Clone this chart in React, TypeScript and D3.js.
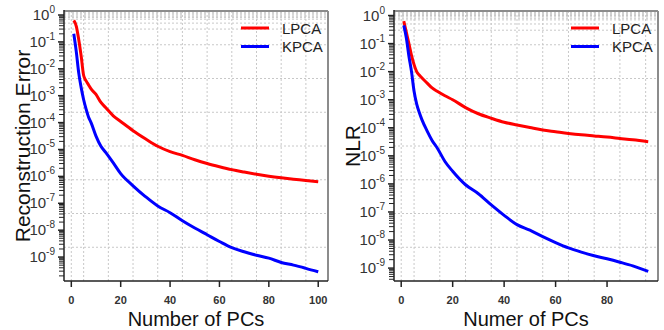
import * as d3 from "d3";

const pcsLeft = [1, 2, 3, 4, 5, 6, 7, 8, 10, 12, 14, 17, 20, 25, 30, 35, 40, 45, 50, 55, 60, 65, 70, 75, 80, 85, 90, 95, 100];
const pcsRight = [1, 2, 3, 4, 5, 6, 7, 8, 10, 12, 14, 17, 20, 25, 30, 35, 40, 45, 50, 55, 60, 65, 70, 75, 80, 85, 90, 96];

// reconstruction error
const lpcaErr = [
  0.631, 0.389, 0.123, 2.95e-2, 5.62e-3, 3.55e-3, 2.51e-3, 1.78e-3, 1.12e-3, 5.62e-4, 3.55e-4, 1.78e-4, 1.1e-4,
  5.01e-5, 2.51e-5, 1.32e-5, 8.32e-6, 6.03e-6, 4.17e-6, 3.02e-6, 2.29e-6, 1.78e-6, 1.45e-6, 1.2e-6, 1.02e-6,
  8.9e-7, 7.9e-7, 7.1e-7, 6.3e-7,
];
const kpcaErr = [
  0.2, 4.47e-2, 7.08e-3, 2.0e-3, 7.08e-4, 3.16e-4, 1.58e-4, 1.0e-4, 3.16e-5, 1.32e-5, 7.59e-6, 3.16e-6, 1.26e-6,
  4.47e-7, 1.78e-7, 7.94e-8, 4.47e-8, 2.24e-8, 1.2e-8, 6.76e-9, 3.8e-9, 2.24e-9, 1.58e-9, 1.17e-9, 9.12e-10,
  6.31e-10, 5.01e-10, 3.8e-10, 2.82e-10,
];

// NLR
const lpcaNlr = [
  0.631, 0.251, 0.1, 3.8e-2, 1.78e-2, 1.0e-2, 7.59e-3, 6.03e-3, 3.98e-3, 2.63e-3, 2.0e-3, 1.38e-3, 1.0e-3,
  5.25e-4, 3.16e-4, 2.19e-4, 1.58e-4, 1.26e-4, 1.02e-4, 8.32e-5, 7.24e-5, 6.31e-5, 5.62e-5, 5.13e-5, 4.68e-5,
  4.17e-5, 3.72e-5, 3.16e-5,
];
const kpcaNlr = [
  0.447, 0.158, 3.55e-2, 1.0e-2, 2.0e-3, 7.08e-4, 3.55e-4, 2.0e-4, 7.94e-5, 3.55e-5, 1.91e-5, 6.31e-6, 2.82e-6,
  9.33e-7, 4.47e-7, 1.78e-7, 7.59e-8, 3.55e-8, 2.24e-8, 1.32e-8, 8.13e-9, 5.25e-9, 3.72e-9, 2.75e-9, 2.14e-9,
  1.62e-9, 1.2e-9, 7.59e-10,
];

const xTicksLeft = [0, 20, 40, 60, 80, 100];
const xTicksRight = [0, 20, 40, 60, 80];
const xGrid = [0, 5, 15, 25, 35, 45, 55, 65, 75, 85, 95];
const yExponents = [0, -1, -2, -3, -4, -5, -6, -7, -8, -9];
const yGridFrac = [1 / 8, 2 / 8, 3 / 8, 4 / 8, 5 / 8, 6 / 8, 7 / 8];
const yGridTop = [0.3, 0.5, 0.7, 0.8, 0.9, 1, 1.1, 1.2, 1.3];
const legendNames = ["LPCA", "KPCA"];
const colors = ["#ff0000", "#0000ff"];

const FONT = "'Liberation Sans', Arial, sans-serif";

interface PanelProps {
  left: number;
  right: number;
  pcs: number[];
  series: number[][];
  xDomain: [number, number];
  yDomain: [number, number];
  xTicks: number[];
  yLabel: string;
  xLabel: string;
}

function Panel({ left, right, pcs, series, xDomain, yDomain, xTicks, yLabel, xLabel }: PanelProps) {
  const top = 11;
  const bottom = 281;
  const x = d3.scaleLinear().domain(xDomain).range([left, right]);
  const y = d3.scaleLog().domain(yDomain).range([bottom, top]);
  const frac = d3.scaleLinear().domain([0, 1]).range([bottom, top]);
  const line = d3
    .line<number>()
    .x((_, i) => x(pcs[i]))
    .y((d) => y(d))
    .curve(d3.curveMonotoneX);

  const minor: number[] = [];
  for (let e = -10; e <= 0; e++) {
    for (let m = 2; m <= 9; m++) {
      const v = m * Math.pow(10, e);
      if (v >= yDomain[0] && v <= yDomain[1]) minor.push(v);
    }
  }
  const grid = "#c8c8c8";
  const lx = right - 87;

  return (
    <g>
      {xGrid.map((g) => (
        <line key={"vx" + g} x1={x(g)} x2={x(g)} y1={top} y2={bottom} stroke={grid} strokeDasharray="2,2" />
      ))}
      {yGridFrac.map((f) => (
        <line key={"hf" + f} x1={left} x2={right} y1={frac(f)} y2={frac(f)} stroke={grid} strokeDasharray="2,2" />
      ))}
      {yGridTop.map((v) => (
        <line key={"ht" + v} x1={left} x2={right} y1={y(v)} y2={y(v)} stroke={grid} strokeDasharray="2,2" />
      ))}
      {series.map((s, i) => (
        <path key={i} d={line(s) ?? ""} fill="none" stroke={colors[i]} strokeWidth={3} strokeLinejoin="round" />
      ))}
      {/* frame */}
      <line x1={left} x2={right} y1={top} y2={top} stroke="#8c8c8c" strokeWidth={2} />
      <line x1={right} x2={right} y1={top} y2={bottom} stroke="#8c8c8c" strokeWidth={2} />
      <line x1={left} x2={left} y1={top - 1} y2={bottom} stroke="#222" strokeWidth={1.5} />
      <line x1={left} x2={right} y1={bottom} y2={bottom} stroke="#222" strokeWidth={1.5} />
      {/* y ticks */}
      {minor.map((v, i) => (
        <line key={"m" + i} x1={left - 5} x2={left} y1={y(v)} y2={y(v)} stroke="#222" strokeWidth={1} />
      ))}
      {yExponents.map((e) => {
        const yy = y(Math.pow(10, e));
        return (
          <g key={"yt" + e}>
            <line x1={left - 6} x2={left} y1={yy} y2={yy} stroke="#222" strokeWidth={1.5} />
            <text x={left - 9} y={yy + 5} textAnchor="end" fontFamily={FONT} fontSize={15} fill="#333">
              10
              <tspan dy={-7} fontSize={10}>
                {e}
              </tspan>
            </text>
          </g>
        );
      })}
      {/* x ticks */}
      {xTicks.map((t) => (
        <g key={"xt" + t}>
          <line x1={x(t)} x2={x(t)} y1={bottom} y2={bottom + 6} stroke="#222" strokeWidth={1.5} />
          <text x={x(t)} y={bottom + 23} textAnchor="middle" fontFamily={FONT} fontSize={11} fontWeight={700} fill="#333">
            {t}
          </text>
        </g>
      ))}
      <text
        x={(left + right) / 2}
        y={326}
        textAnchor="middle"
        fontFamily={FONT}
        fontSize={20}
        fill="#111"
      >
        {xLabel}
      </text>
      <text
        transform={`translate(${left - 34},${(top + bottom) / 2}) rotate(-90)`}
        textAnchor="middle"
        fontFamily={FONT}
        fontSize={21}
        fill="#111"
      >
        {yLabel}
      </text>
      {/* legend */}
      {legendNames.map((n, i) => (
        <g key={n}>
          <line x1={lx} x2={lx + 28} y1={28 + i * 18.5} y2={28 + i * 18.5} stroke={colors[i]} strokeWidth={3} />
          <text x={lx + 41} y={28 + i * 18.5 + 5.5} fontFamily={FONT} fontSize={15} fill="#222">
            {n}
          </text>
        </g>
      ))}
    </g>
  );
}

export default function App() {
  return (
    <svg
      width={664}
      height={330}
      viewBox="0 0 664 330"
      style={{ position: "absolute", left: 0, top: 0, background: "#fff" }}
    >
      <Panel
        left={64}
        right={328}
        pcs={pcsLeft}
        series={[lpcaErr, kpcaErr]}
        xDomain={[-2.96, 103.96]}
        yDomain={[1.29e-10, 1.41]}
        xTicks={xTicksLeft}
        yLabel="Reconstruction Error"
        xLabel="Number of PCs"
      />
      <Panel
        left={394}
        right={658}
        pcs={pcsRight}
        series={[lpcaNlr, kpcaNlr]}
        xDomain={[-2.8, 99.8]}
        yDomain={[3.47e-10, 1.45]}
        xTicks={xTicksRight}
        yLabel="NLR"
        xLabel="Numer of PCs"
      />
    </svg>
  );
}
